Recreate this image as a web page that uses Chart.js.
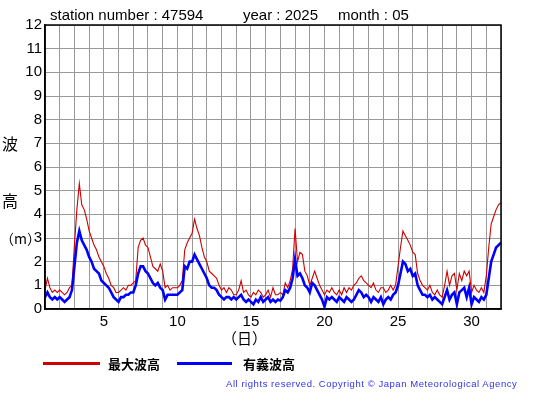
<!DOCTYPE html>
<html>
<head>
<meta charset="utf-8">
<script src="https://cdn.jsdelivr.net/npm/chart.js@4"></script>
<style>
  body { margin: 0; background: #fff; }
  #wrap { position: relative; width: 555px; height: 395px; font-family: "Liberation Sans", Arial, sans-serif; }
  #wrap canvas { position: absolute; left: 0; top: 0; }
  .t { position: absolute; white-space: nowrap; color: #000; }
  .ttl { font-size: 15px; top: 6px; }
  .ylab { font-family: "Noto Sans CJK JP", sans-serif; font-size: 16px; left: 2px; }
  .leg { font-family: "Noto Sans CJK JP", sans-serif; font-size: 13px; font-weight: bold; top: 354px; }
  .sw { position: absolute; top: 362px; height: 3px; }
</style>
</head>
<body>
<div id="wrap">
  <canvas id="chart_wave" width="555" height="395"></canvas>
  <div class="t ttl" style="left:50px">station number : 47594</div>
  <div class="t ttl" style="left:243px">year : 2025</div>
  <div class="t ttl" style="left:338px">month : 05</div>
  <div class="t ylab" style="top:131px">波</div>
  <div class="t ylab" style="top:188px">高</div>
  <div class="t ylab" style="top:228px;font-size:14px;left:0px">（m）</div>
  <div class="t" style="left:222px;top:327px;font-family:'Noto Sans CJK JP',sans-serif;font-size:15px">（日）</div>
  <div class="sw" style="left:43px;width:57px;background:#cc0000"></div>
  <div class="t leg" style="left:108px">最大波高</div>
  <div class="sw" style="left:177px;width:55px;background:#0000ff"></div>
  <div class="t leg" style="left:243px">有義波高</div>
  <div class="t" style="left:226px;top:378px;font-size:9.5px;letter-spacing:0.55px;color:#3333ee">All rights reserved. Copyright © Japan Meteorological Agency</div>
</div>
<script>
// 4-hourly readings, day 1 00h .. day 32 00h
const maxWave = [
  0.8, 1.3, 0.9, 0.7, 0.8, 0.7,
  0.8, 0.7, 0.6, 0.7, 0.9, 1.0,
  2.7, 4.2, 5.3, 4.4, 4.2, 3.8,
  3.3, 3.0, 2.7, 2.5, 2.2, 2.0,
  1.8, 1.5, 1.3, 1.0, 0.9, 0.7,
  0.7, 0.8, 0.9, 0.8, 1.0, 1.0,
  1.1, 1.2, 2.6, 2.9, 3.0, 2.7,
  2.6, 2.2, 1.8, 1.7, 1.6, 1.9,
  1.6, 0.9, 1.0, 0.8, 0.9, 0.9,
  0.9, 1.0, 1.2, 2.5, 2.8, 3.0,
  3.2, 3.8, 3.4, 3.1, 2.6, 2.2,
  2.0, 1.6, 1.5, 1.4, 1.3, 1.0,
  0.8, 0.9, 0.7, 0.9, 0.8, 0.6,
  0.6, 0.8, 1.2, 0.7, 0.8, 0.6,
  0.5, 0.7, 0.6, 0.8, 0.7, 0.5,
  0.6, 0.8, 0.5, 0.9, 0.6, 0.6,
  0.7, 0.6, 1.1, 0.9, 1.2, 1.7,
  3.4, 2.0, 2.4, 2.3, 1.6, 1.4,
  1.0, 1.3, 1.6, 1.3, 1.0, 0.8,
  0.6, 0.8, 0.7, 0.9, 0.7, 0.6,
  0.8, 0.6, 0.9, 0.7, 0.9, 0.8,
  1.0, 1.1, 1.3, 1.4, 1.2, 1.1,
  1.0, 0.9, 1.1, 0.8, 0.7, 0.9,
  0.9, 0.7, 0.8, 1.0, 0.8, 1.0,
  1.8, 2.6, 3.3, 3.1, 2.9, 2.7,
  2.4, 2.3, 1.5, 1.2, 1.0, 0.9,
  0.8, 1.0, 0.7, 0.6, 0.8, 0.6,
  0.5, 1.0, 1.6, 1.0, 1.4, 1.5,
  0.8, 1.5, 1.2, 1.6, 1.4, 1.6,
  0.7, 1.0, 0.8, 0.7, 0.9, 0.7,
  1.4, 2.6, 3.6, 3.9, 4.2, 4.4,
  4.5
];
const sigWave = [
  0.5, 0.7, 0.5, 0.4, 0.5, 0.4,
  0.5, 0.4, 0.3, 0.4, 0.5, 0.8,
  1.8, 2.8, 3.3, 2.9, 2.7, 2.5,
  2.2, 2.0, 1.7, 1.6, 1.5, 1.2,
  1.1, 1.0, 0.9, 0.7, 0.5, 0.4,
  0.3, 0.5, 0.5, 0.6, 0.6, 0.7,
  0.7, 1.0, 1.5, 1.8, 1.8, 1.6,
  1.5, 1.3, 1.1, 1.0, 1.1, 0.9,
  0.8, 0.4, 0.6, 0.6, 0.6, 0.6,
  0.6, 0.7, 0.8, 1.8, 1.7, 2.0,
  2.0, 2.3, 2.1, 1.9, 1.7, 1.5,
  1.3, 1.0, 0.9, 0.9, 0.8, 0.6,
  0.5, 0.4, 0.5, 0.5, 0.4, 0.5,
  0.4, 0.5, 0.6, 0.4, 0.3, 0.4,
  0.3, 0.2, 0.4, 0.3, 0.5, 0.3,
  0.4, 0.5, 0.3, 0.4, 0.3, 0.4,
  0.35, 0.5, 0.8, 0.7, 0.9, 1.3,
  2.1, 1.4, 1.5, 1.3, 1.0, 0.9,
  0.7, 1.1, 1.0, 0.8, 0.6, 0.4,
  0.1, 0.5, 0.4, 0.5, 0.4, 0.3,
  0.5, 0.4, 0.3, 0.5, 0.4, 0.3,
  0.4, 0.6, 0.8, 0.7, 0.5, 0.6,
  0.5, 0.3, 0.5, 0.4, 0.3, 0.5,
  0.2, 0.4, 0.5, 0.4, 0.6, 0.7,
  1.0, 1.5, 2.0, 1.9, 1.6, 1.7,
  1.4, 1.5, 1.0, 0.8, 0.6, 0.6,
  0.5, 0.6, 0.4, 0.5, 0.4, 0.3,
  0.2, 0.5, 0.8, 0.4, 0.6, 0.7,
  0.2, 0.7, 0.8, 0.9, 0.5, 0.9,
  0.2, 0.5, 0.4, 0.3, 0.5, 0.4,
  0.6, 1.3, 2.0, 2.3, 2.6, 2.7,
  2.8
];
const stepsPerDay = 6;
const dayTicks = [5, 10, 15, 20, 25, 30];

const toPoints = (arr) => arr.map((v, i) => ({ x: 1 + i / stepsPerDay, y: v }));

const frame = {
    id: "frame",
    afterDraw(chart) {
        const a = chart.chartArea;
        const ctx = chart.ctx;
        ctx.save();
        ctx.strokeStyle = "#000";
        ctx.lineWidth = 1.5;
        ctx.strokeRect(a.left, a.top, a.right - a.left, a.bottom - a.top);
        ctx.restore();
    },
};

const config = {
    type: "line",
    data: {
        datasets: [
            {
                label: "有義波高",
                data: toPoints(sigWave),
                borderColor: "#0000ff",
                borderWidth: 2.6,
                pointRadius: 0,
                tension: 0,
            },
            {
                label: "最大波高",
                data: toPoints(maxWave),
                borderColor: "#cc0000",
                borderWidth: 1.1,
                pointRadius: 0,
                tension: 0,
            },
        ],
    },
    options: {
        responsive: false,
        animation: false,
        layout: { padding: { left: 0, right: 54, top: 25, bottom: 56 } },
        plugins: { legend: { display: false }, tooltip: { enabled: false } },
        scales: {
            x: {
                type: "linear",
                min: 1,
                max: 32,
                afterFit: (s) => { s.height = 30; },
                grid: { color: "#999", lineWidth: 1, drawTicks: false },
                border: { color: "#000", width: 1.5 },
                ticks: {
                    stepSize: 1,
                    autoSkip: false,
                    maxRotation: 0,
                    padding: 4,
                    color: "#000",
                    font: { family: "Liberation Sans", size: 15 },
                    callback: (v) => (dayTicks.includes(v) ? String(v) : ""),
                },
            },
            y: {
                min: 0,
                max: 12,
                afterFit: (s) => { s.width = 45; },
                grid: { color: "#999", lineWidth: 1, drawTicks: false },
                border: { color: "#000", width: 1.5 },
                ticks: {
                    stepSize: 1,
                    padding: 3,
                    color: "#000",
                    font: { family: "Liberation Sans", size: 15 },
                },
            },
        },
    },
    plugins: [frame],
};

const ctxWave = document.getElementById("chart_wave");
const waveChart = new Chart(ctxWave, config);
</script>
</body>
</html>
